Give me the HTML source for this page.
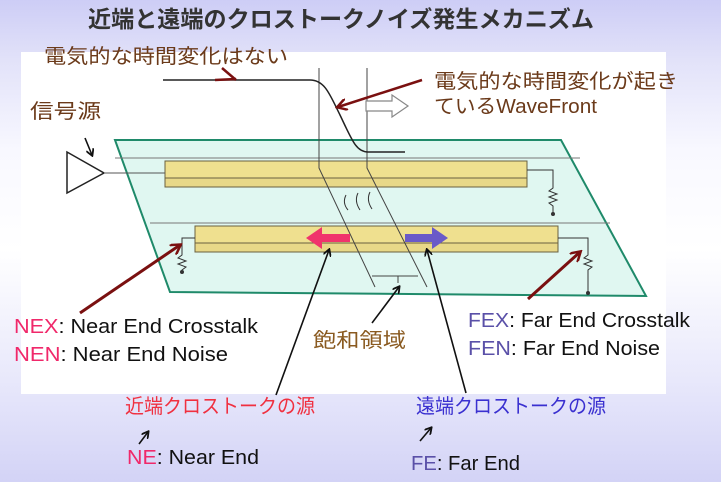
<!DOCTYPE html>
<html><head><meta charset="utf-8"><style>
html,body{margin:0;padding:0}
body{width:721px;height:482px;overflow:hidden;background:linear-gradient(#cdcdf6 0px,#e2e2f9 60px,#f8f8ff 150px,#ffffff 250px,#e8e8fb 380px,#d3d3f6 482px);font-family:"Liberation Sans","Noto Sans CJK JP",sans-serif}
svg{position:absolute;left:0;top:0}
</style></head><body>
<svg width="721" height="482" viewBox="0 0 721 482" font-family="Liberation Sans, Noto Sans CJK JP, sans-serif">
<defs>
<marker id="ab" markerWidth="8" markerHeight="8" refX="6" refY="4" orient="auto" markerUnits="userSpaceOnUse"><path d="M0,0 L7,4 L0,8" fill="none" stroke="#111" stroke-width="1.8"/></marker>
<marker id="ar" markerWidth="12" markerHeight="12" refX="9" refY="6" orient="auto" markerUnits="userSpaceOnUse"><path d="M0,0 L10,6 L0,12" fill="none" stroke="#7a1010" stroke-width="2.5"/></marker>
</defs>
<rect x="21" y="52" width="645" height="342" fill="#fff"/>
<text x="88" y="27" font-size="23" font-weight="bold" fill="#333" textLength="506" lengthAdjust="spacingAndGlyphs">近端と遠端のクロストークノイズ発生メカニズム</text>
<!-- board -->
<polygon points="115,140 561,140 646,296 170,292" fill="#e0f7f1" stroke="#1f8a6a" stroke-width="2"/>
<line x1="115" y1="158" x2="580" y2="158" stroke="#777" stroke-width="1"/>
<line x1="150" y1="223" x2="610" y2="223" stroke="#777" stroke-width="1"/>
<!-- traces -->
<rect x="165" y="161" width="362" height="17" fill="#efe08f" stroke="#6a6040" stroke-width="1"/>
<rect x="165" y="178" width="362" height="9" fill="#e8d888" stroke="#6a6040" stroke-width="1"/>
<rect x="195" y="226" width="363" height="17" fill="#efe08f" stroke="#6a6040" stroke-width="1"/>
<rect x="195" y="243" width="363" height="9" fill="#e8d888" stroke="#6a6040" stroke-width="1"/>
<!-- driver -->
<polygon points="67,152 67,193 104,173" fill="#fff" stroke="#222" stroke-width="1.5"/>
<line x1="104" y1="173" x2="165" y2="173" stroke="#555"/>
<!-- resistors -->
<path d="M527,170 H553 V188 l-4,3 8,3 -8,3 8,3 -8,3 4,3 V214" fill="none" stroke="#333"/>
<circle cx="553" cy="214" r="2" fill="#333"/>
<path d="M195,238 H182 V255 l-4,3 8,3 -8,3 8,3 -4,3 V272" fill="none" stroke="#333"/>
<circle cx="182" cy="272" r="2" fill="#333"/>
<path d="M558,238 H588 V255 l-4,3 8,3 -8,3 8,3 -4,3 V293" fill="none" stroke="#333"/>
<circle cx="588" cy="293" r="2" fill="#333"/>
<!-- wavefront lines -->
<path d="M319,68 V168 L375,287" fill="none" stroke="#444" stroke-width="1"/>
<path d="M367,68 V168 L427,287" fill="none" stroke="#444" stroke-width="1"/>
<line x1="372" y1="276" x2="418" y2="276" stroke="#444"/>
<line x1="398" y1="276" x2="398" y2="283" stroke="#444"/>
<!-- waveform -->
<path d="M163,80 H310 C325,80 330,95 340,115 C352,140 356,152 368,152 H405" fill="none" stroke="#222" stroke-width="1.5"/>
<!-- field arrows -->
<path d="M346,195 q-4,8 2,15 M358,193 q-4,8 2,17 M370,192 q-4,8 2,17" fill="none" stroke="#333" stroke-width="1"/>
<!-- red / blue arrows -->
<polygon points="350,234 322,234 322,227 306,238 322,249 322,242 350,242" fill="#f0346c"/>
<polygon points="405,234 432,234 432,227 448,238 432,249 432,242 405,242" fill="#6a5ac8"/>
<!-- white wavefront arrow -->
<polygon points="366,101 392,101 392,95 408,106 392,117 392,111 366,111" fill="#fff" stroke="#888" stroke-width="1.2"/>
<!-- red leader arrows -->
<line x1="215" y1="80" x2="236" y2="79" stroke="#7a1010" stroke-width="2.5"/>
<line x1="222" y1="68" x2="236" y2="80" stroke="#7a1010" stroke-width="2.5"/>
<line x1="422" y1="80" x2="338" y2="107" stroke="#7a1010" stroke-width="2.5" marker-end="url(#ar)"/>
<line x1="80" y1="313" x2="180" y2="245" stroke="#7a1010" stroke-width="3" marker-end="url(#ar)"/>
<line x1="528" y1="299" x2="580" y2="252" stroke="#7a1010" stroke-width="3" marker-end="url(#ar)"/>
<!-- black leaders -->
<line x1="85" y1="138" x2="92" y2="155" stroke="#111" stroke-width="1.6" marker-end="url(#ab)"/>
<line x1="276" y1="395" x2="329" y2="250" stroke="#111" stroke-width="1.6" marker-end="url(#ab)"/>
<line x1="466" y1="393" x2="427" y2="250" stroke="#111" stroke-width="1.6" marker-end="url(#ab)"/>
<line x1="372" y1="323" x2="399" y2="287" stroke="#111" stroke-width="1.6" marker-end="url(#ab)"/>
<line x1="139" y1="444" x2="148" y2="432" stroke="#111" stroke-width="1.6" marker-end="url(#ab)"/>
<line x1="420" y1="441" x2="431" y2="428" stroke="#111" stroke-width="1.6" marker-end="url(#ab)"/>
<!-- texts -->
<g font-size="20" fill="#6b3a1a" lengthAdjust="spacingAndGlyphs">
<text x="44" y="63" textLength="244" lengthAdjust="spacingAndGlyphs">電気的な時間変化はない</text>
<text x="434" y="88" textLength="244" lengthAdjust="spacingAndGlyphs">電気的な時間変化が起き</text>
<text x="434" y="113" textLength="163" lengthAdjust="spacingAndGlyphs">ているWaveFront</text>
<text x="30" y="118" textLength="71" lengthAdjust="spacingAndGlyphs">信号源</text>
<text x="313" y="347" fill="#8a5a20" textLength="93" lengthAdjust="spacingAndGlyphs">飽和領域</text>
</g>
<g font-size="20" fill="#111">
<text x="14" y="333" textLength="244" lengthAdjust="spacingAndGlyphs"><tspan fill="#f0286a">NEX</tspan>: Near End Crosstalk</text>
<text x="14" y="361" textLength="214" lengthAdjust="spacingAndGlyphs"><tspan fill="#f0286a">NEN</tspan>: Near End Noise</text>
<text x="468" y="327" textLength="222" lengthAdjust="spacingAndGlyphs"><tspan fill="#5a50a8">FEX</tspan>: Far End Crosstalk</text>
<text x="468" y="355" textLength="192" lengthAdjust="spacingAndGlyphs"><tspan fill="#5a50a8">FEN</tspan>: Far End Noise</text>
<text x="125" y="413" fill="#f03040" textLength="190" lengthAdjust="spacingAndGlyphs">近端クロストークの源</text>
<text x="416" y="413" fill="#3a30d0" textLength="190" lengthAdjust="spacingAndGlyphs">遠端クロストークの源</text>
<text x="127" y="464" textLength="132" lengthAdjust="spacingAndGlyphs"><tspan fill="#f0286a">NE</tspan>: Near End</text>
<text x="411" y="470" textLength="109" lengthAdjust="spacingAndGlyphs"><tspan fill="#5a50a8">FE</tspan>: Far End</text>
</g>
</svg>
</body></html>
